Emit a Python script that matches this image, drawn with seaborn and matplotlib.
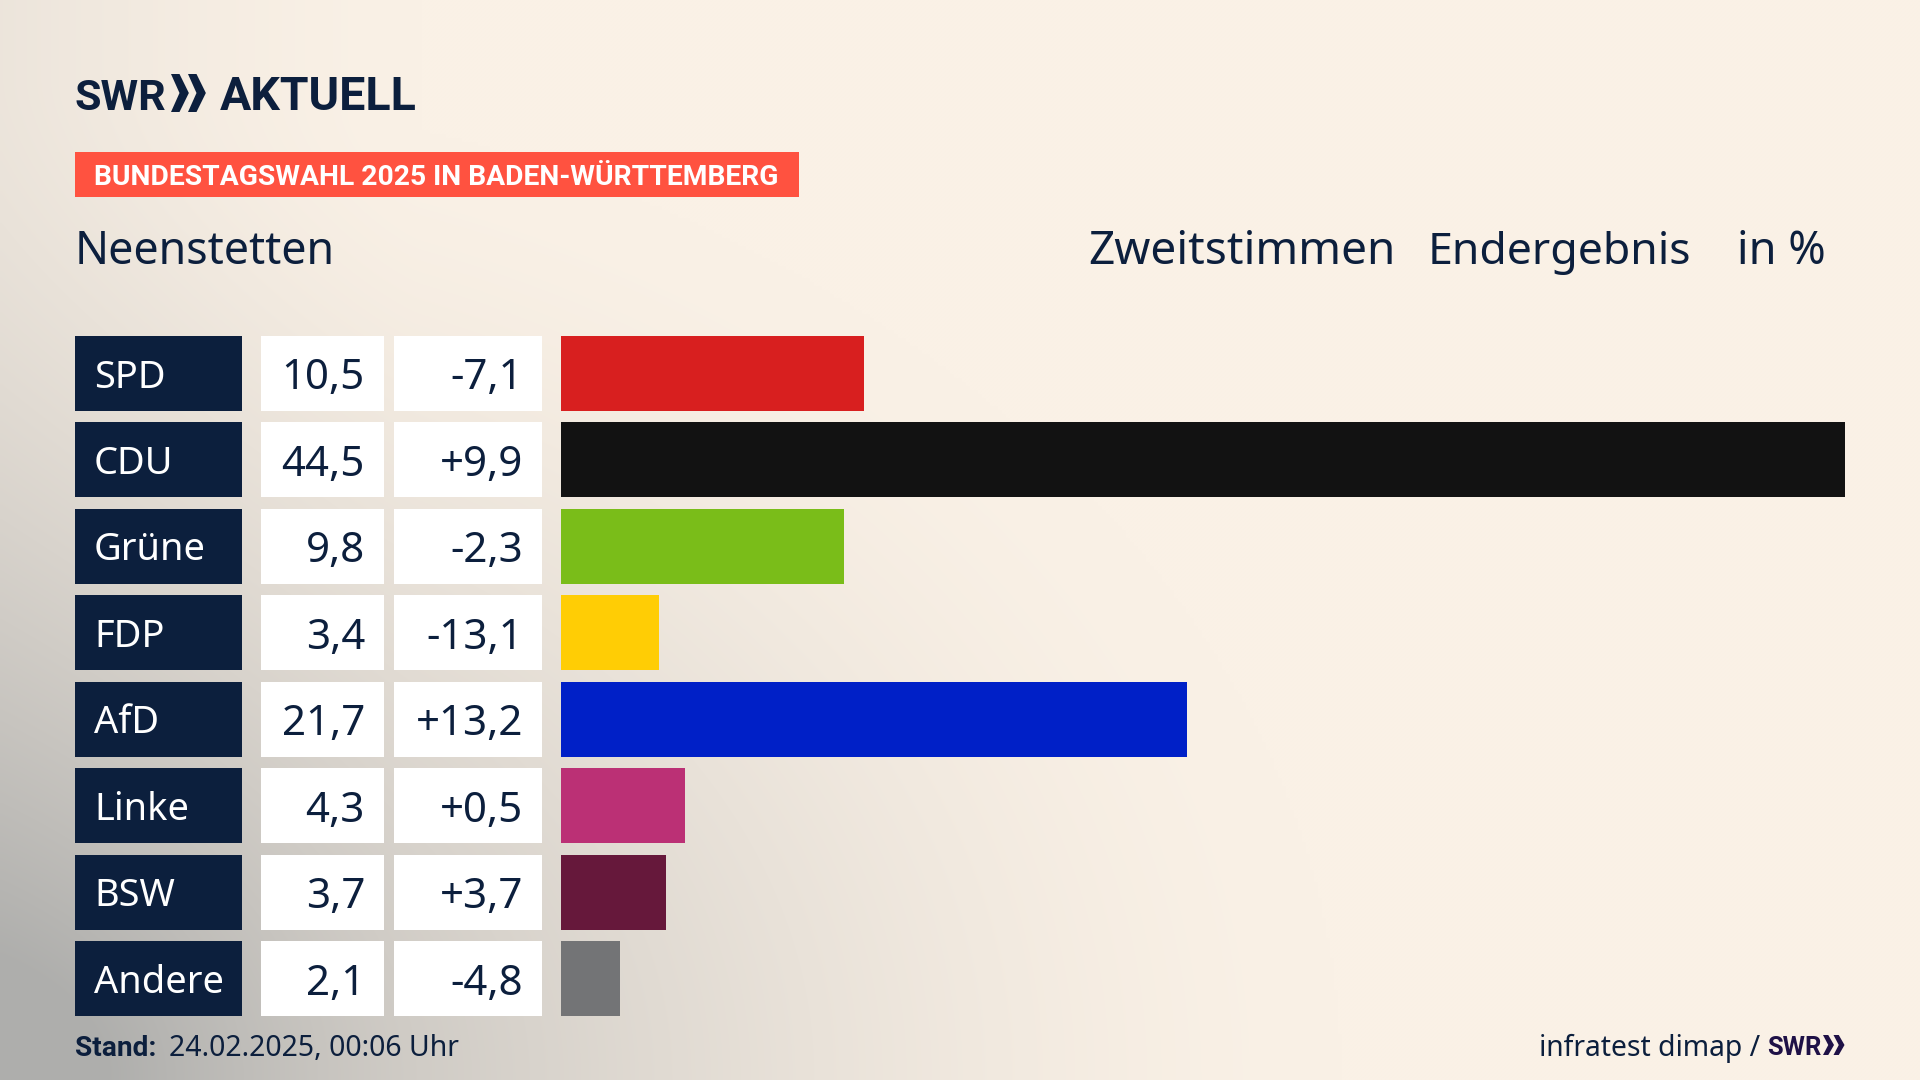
import numpy as np
import pandas as pd
import seaborn as sns
import matplotlib
matplotlib.use("Agg")
import matplotlib.pyplot as plt
from matplotlib.patches import Rectangle, Polygon
from matplotlib.transforms import blended_transform_factory

parties = ["SPD", "CDU", "Grüne", "FDP", "AfD", "Linke", "BSW", "Andere"]
bar_values = [10.5, 44.5, 9.8, 3.4, 21.7, 4.3, 3.65, 2.05]
shares = ["10,5", "44,5", "9,8", "3,4", "21,7", "4,3", "3,7", "2,1"]
diffs = ["-7,1", "+9,9", "-2,3", "-13,1", "+13,2", "+0,5", "+3,7", "-4,8"]
colors = ["#D81F1F", "#121212", "#7ABD19", "#FFCD05", "#0020C7", "#BB3075", "#66183B", "#737476"]

NAVY = "#0C1F3D"
MAIN = "Noto Sans"
BOLD = "Roboto"
W, H = 1920, 1080
sns.set_theme(style="white")
plt.rcParams["font.family"] = [MAIN, "DejaVu Sans"]

def fs(px):
    return px * 0.72

fig = plt.figure(figsize=(19.2, 10.8), dpi=100)

bg = fig.add_axes([0, 0, 1, 1])
bg.set_xlim(0, W); bg.set_ylim(H, 0); bg.axis("off")
yy, xx = np.mgrid[0:H:270j, 0:W:480j]
d = np.sqrt((xx / 1340.0) ** 2 + ((H - yy) / 1000.0) ** 2)
a = np.clip(1 - d, 0, 1) ** 1.6
edge = 0.18 * np.clip(1 - xx / 420.0, 0, 1) ** 1.5
a = np.clip(a + edge, 0, 1)
cream = np.array([250, 241, 230]) / 255
grey = np.array([174, 174, 172]) / 255
img = cream[None, None, :] * (1 - a[..., None]) + grey[None, None, :] * a[..., None]
bg.imshow(img, extent=[0, W, H, 0], aspect="auto", zorder=0, interpolation="bilinear")
bg.set_xlim(0, W); bg.set_ylim(H, 0)

top, pitch, bar_h = 336.0, 86.43, 75.0
x0, x1 = 561.0, 1845.0
y_top = top - (pitch - bar_h) / 2
y_bot = y_top + pitch * len(parties)
ax = fig.add_axes([x0 / W, 1 - y_bot / H, (x1 - x0) / W, (y_bot - y_top) / H])
ax.patch.set_alpha(0)
df = pd.DataFrame({"party": parties, "value": bar_values})
sns.barplot(data=df, y="party", x="value", hue="party", palette=colors, hue_order=parties,
            order=parties, legend=False, width=bar_h / pitch, saturation=1, orient="h", ax=ax,
            linewidth=0, edgecolor="none")
ax.set_xlim(0, max(bar_values))
ax.set_ylim(len(parties) - 0.5, -0.5)
ax.axis("off")

row = blended_transform_factory(bg.transData, ax.transData)
rh = bar_h / pitch
base = 14.0 / pitch
num_base = 16.0 / pitch
for i, (p, v, dv) in enumerate(zip(parties, shares, diffs)):
    for xl, xr, c in [(75, 242, NAVY), (261, 384, "white"), (394, 542, "white")]:
        bg.add_patch(Rectangle((xl, i - rh / 2), xr - xl, rh, transform=row, fc=c, ec="none", zorder=2))
    bg.text(94, i + base, p, transform=row, color="white", fontsize=fs(38), va="baseline", ha="left", zorder=3)
    bg.text(365, i + num_base, v, transform=row, color=NAVY, fontsize=fs(42), va="baseline", ha="right", zorder=3)
    bg.text(523, i + num_base, dv, transform=row, color=NAVY, fontsize=fs(42), va="baseline", ha="right", zorder=3)

bg.text(75, 110, "SWR", color=NAVY, fontsize=fs(43), fontweight="bold", va="baseline", ha="left",
        family=[BOLD, "DejaVu Sans"], zorder=3)
bg.text(220, 110, "AKTUELL", color=NAVY, fontsize=fs(46.5), fontweight="bold", va="baseline", ha="left",
        family=[BOLD, "DejaVu Sans"], zorder=3)

def chevrons(x, y0, y1, w, c):
    m = (y0 + y1) / 2
    for k in range(2):
        xs = x + k * w
        bg.add_patch(Polygon([(xs, y0), (xs + w * 0.5, y0), (xs + w * 1.05, m), (xs + w * 0.5, y1),
                              (xs, y1), (xs + w * 0.5, m)], closed=True, fc=c, ec="none", zorder=3))

chevrons(171, 74, 112, 17, NAVY)

bg.add_patch(Rectangle((75, 152), 724, 45, fc="#FF5240", ec="none", zorder=2))
bg.text(94, 185, "BUNDESTAGSWAHL 2025 IN BADEN-WÜRTTEMBERG", color="white", fontsize=fs(28.3),
        fontweight="bold", va="baseline", ha="left", family=[BOLD, "DejaVu Sans"], zorder=3)

bg.text(75, 264, "Neenstetten", color=NAVY, fontsize=fs(44.8), va="baseline", ha="left", zorder=3)
bg.text(1088, 264, "Zweitstimmen", color=NAVY, fontsize=fs(46), va="baseline", ha="left", zorder=3)
bg.text(1428, 264, "Endergebnis", color=NAVY, fontsize=fs(44.6), va="baseline", ha="left", zorder=3)
bg.text(1826, 264, "in %", color=NAVY, fontsize=fs(45), va="baseline", ha="right", zorder=3)

bg.text(75, 1056, "Stand:", color=NAVY, fontsize=fs(28), fontweight="bold", va="baseline", ha="left",
        family=[BOLD, "DejaVu Sans"], zorder=3)
bg.text(169, 1056, "24.02.2025, 00:06 Uhr", color=NAVY, fontsize=fs(28.4), va="baseline", ha="left", zorder=3)
bg.text(1760, 1056, "infratest dimap /", color=NAVY, fontsize=fs(28.3), va="baseline", ha="right", zorder=3)
bg.text(1767, 1055, "SWR", color="#1F1147", fontsize=fs(25.5), fontweight="bold", va="baseline", ha="left",
        family=[BOLD, "DejaVu Sans"], zorder=3)
chevrons(1823, 1035, 1055, 10.5, "#1F1147")

fig.savefig("out.png", dpi=100)
